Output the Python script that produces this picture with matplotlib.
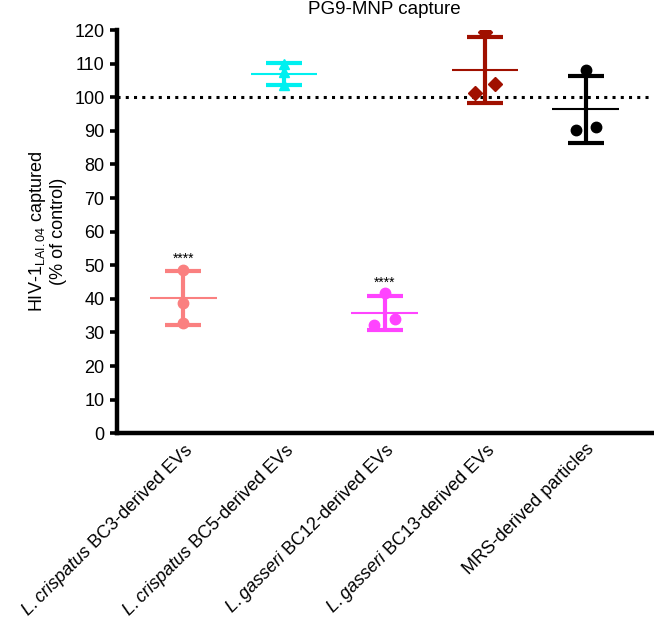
import numpy as np
import matplotlib.pyplot as plt

plt.rcParams['font.family'] = ['Liberation Sans', 'DejaVu Sans']
plt.rcParams['mathtext.fontset'] = 'custom'
plt.rcParams['mathtext.rm'] = 'Liberation Sans'
plt.rcParams['mathtext.it'] = 'Liberation Sans:italic'

groups = [r"$\it{L.crispatus}$ BC3-derived EVs",
          r"$\it{L.crispatus}$ BC5-derived EVs",
          r"$\it{L.gasseri}$ BC12-derived EVs",
          r"$\it{L.gasseri}$ BC13-derived EVs",
          "MRS-derived particles"]
bc3 = [48.7, 38.8, 32.8]
bc5 = [110.0, 107.5, 103.5]
bc12 = [41.6, 33.9, 32.1]
bc13 = [119.4, 103.8, 101.4]
mrs = [108.0, 91.2, 90.2]
values = [bc3, bc5, bc12, bc13, mrs]
signif = ["****", "", "****", "", ""]

colors = ["#fa8080", "#00f0f0", "#ff44ff", "#a01000", "#000000"]
markers = ["o", "^", "o", "D", "o"]
jitter = [[0, 0, 0], [0, 0, 0], [0, 0.1, -0.1], [0, 0.1, -0.1], [0, 0.1, -0.1]]

fig = plt.figure(figsize=(6.54, 6.26), dpi=100)
ax = fig.add_axes([0.179, 0.308, 0.818, 0.644])

for i, v in enumerate(values):
    v = np.array(v)
    m = v.mean()
    sd = v.std(ddof=1)
    ax.plot(i + np.array(jitter[i]), v, linestyle='none', marker=markers[i],
            markersize=7.5, color=colors[i], zorder=2)
    ax.errorbar(i, m, yerr=sd, fmt='none', ecolor=colors[i], elinewidth=3,
                capsize=13, capthick=3, zorder=3)
    ax.hlines(m, i - 0.33, i + 0.33, color=colors[i], linewidth=1.5, zorder=3)
    if signif[i]:
        ax.annotate(signif[i], (i, m + sd), xytext=(0, 4), textcoords='offset points',
                    ha='center', va='bottom', fontsize=10)

ax.axhline(100, color='black', linestyle=(0, (1, 1.7)), linewidth=2.2, zorder=1)

ax.set_xlim(-0.66, 4.66)
ax.set_ylim(0, 120)
ax.set_yticks(np.arange(0, 121, 10))
ax.set_xticks(range(len(groups)))
ax.set_xticklabels(groups, rotation=45, ha='right', rotation_mode='anchor', fontsize=13)
ax.tick_params(axis='x', length=0, pad=5)
ax.tick_params(axis='y', length=5, width=2.6, labelsize=13, pad=4)
for s in ['top', 'right']:
    ax.spines[s].set_visible(False)
for s in ['left', 'bottom']:
    ax.spines[s].set_linewidth(3.2)

ax.set_ylabel("HIV-1$_{\\mathrm{LAI.04}}$ captured\n(% of control)", fontsize=13, labelpad=5)
ax.set_title("PG9-MNP capture", fontsize=13.5, pad=0, y=1.04)

fig.savefig("out.png", dpi=100)
